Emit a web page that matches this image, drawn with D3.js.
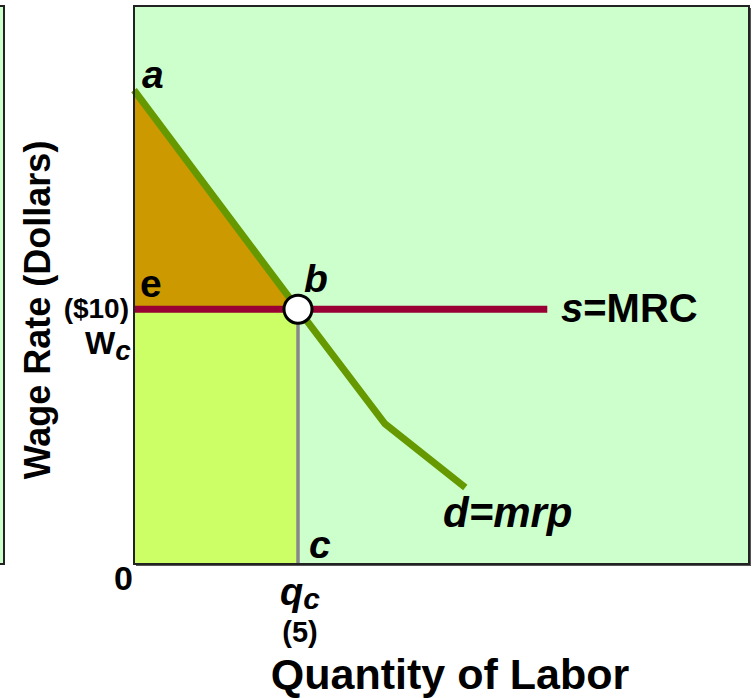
<!DOCTYPE html>
<html>
<head>
<meta charset="utf-8">
<script src="https://cdn.jsdelivr.net/npm/d3@7"></script>
<style>
  body { margin: 0; background: #fff; }
  text { font-family: "Liberation Sans", Arial, sans-serif; font-weight: bold; }
</style>
</head>
<body>
<script>
// labor market: competitive wage, demand = mrp with a kink
const demandQ = [0, 5, 7.65, 10.1];
const demandW = [18.6, 10, 5.5, 3.0];
const supplyQ = [0, 12.6];
const wage = 10;
const qc = 5;

const width = 753, height = 698;
const plot = { left: 134, top: 6, right: 749, bottom: 564 };

const x = d3.scaleLinear().domain([0, 18.75]).range([plot.left, plot.right]);
const y = d3.scaleLinear().domain([0, 21.9]).range([plot.bottom, plot.top]);

const svg = d3.select('body').append('svg')
  .attr('width', width)
  .attr('height', height);

// neighbouring panel peeking in at the left edge
svg.append('rect')
  .attr('x', -20).attr('y', plot.top)
  .attr('width', 24).attr('height', plot.bottom - plot.top)
  .attr('fill', '#ccffcc').attr('stroke', '#222').attr('stroke-width', 2);

// shadow
svg.append('rect')
  .attr('x', plot.left + 2).attr('y', plot.top + 2)
  .attr('width', plot.right - plot.left).attr('height', plot.bottom - plot.top)
  .attr('fill', '#555');

svg.append('rect')
  .attr('x', plot.left).attr('y', plot.top)
  .attr('width', plot.right - plot.left).attr('height', plot.bottom - plot.top)
  .attr('fill', '#ccffcc');

const demand = demandQ.map((q, i) => [q, demandW[i]]);

// total wages rectangle
svg.append('rect')
  .attr('x', x(0)).attr('y', y(wage))
  .attr('width', x(qc) - x(0)).attr('height', y(0) - y(wage))
  .attr('fill', '#ccff66');

// surplus triangle
svg.append('path')
  .attr('d', d3.line()([[x(0), y(demandW[0])], [x(qc), y(wage)], [x(0), y(wage)]]) + 'Z')
  .attr('fill', '#cc9900');

svg.append('line')
  .attr('x1', x(qc)).attr('x2', x(qc))
  .attr('y1', y(wage)).attr('y2', y(0))
  .attr('stroke', '#888').attr('stroke-width', 3.5);

svg.append('line')
  .attr('x1', x(supplyQ[0])).attr('x2', x(supplyQ[1]))
  .attr('y1', y(wage)).attr('y2', y(wage))
  .attr('stroke', '#990033').attr('stroke-width', 7);

svg.append('path')
  .datum(demand)
  .attr('d', d3.line().x(d => x(d[0])).y(d => y(d[1])))
  .attr('fill', 'none')
  .attr('stroke', '#669900').attr('stroke-width', 7);

svg.append('circle')
  .attr('cx', x(qc)).attr('cy', y(wage)).attr('r', 14)
  .attr('fill', '#fff').attr('stroke', '#000').attr('stroke-width', 3);

// frame
svg.append('rect')
  .attr('x', plot.left).attr('y', plot.top)
  .attr('width', plot.right - plot.left).attr('height', plot.bottom - plot.top)
  .attr('fill', 'none').attr('stroke', '#222').attr('stroke-width', 2);

const label = (tx, ty, str, size, opts = {}) => {
  const t = svg.append('text')
    .attr('x', tx).attr('y', ty)
    .attr('font-size', size)
    .attr('text-anchor', opts.anchor || 'start')
    .attr('font-style', opts.italic ? 'italic' : 'normal')
    .text(str);
  return t;
};

label(142, 88, 'a', 39, { italic: true });
label(304, 292, 'b', 39, { italic: true });
label(140, 297, 'e', 39);
label(309, 558, 'c', 39, { italic: true });
label(133, 590, '0', 34, { anchor: 'end' });

label(129, 318, '($10)', 28, { anchor: 'end' });
const wc = label(85, 354, '', 32);
wc.append('tspan').text('W');
wc.append('tspan').attr('font-style', 'italic').attr('font-size', 28).attr('dy', 6).text('c');

const q = label(280, 605, '', 38);
q.append('tspan').attr('font-style', 'italic').text('q');
q.append('tspan').attr('font-style', 'italic').attr('font-size', 30).attr('dy', 4).text('c');
label(x(qc) + 2, 642, '(5)', 29, { anchor: 'middle' });

const s = label(561, 322, '', 40);
s.append('tspan').attr('font-style', 'italic').text('s');
s.append('tspan').text('=MRC');

label(443, 527, 'd=mrp', 42, { italic: true });

label(450, 689, 'Quantity of Labor', 43, { anchor: 'middle' });

svg.append('text')
  .attr('transform', 'translate(50,310) rotate(-90)')
  .attr('text-anchor', 'middle')
  .attr('font-size', 36)
  .text('Wage Rate (Dollars)');
</script>
</body>
</html>
